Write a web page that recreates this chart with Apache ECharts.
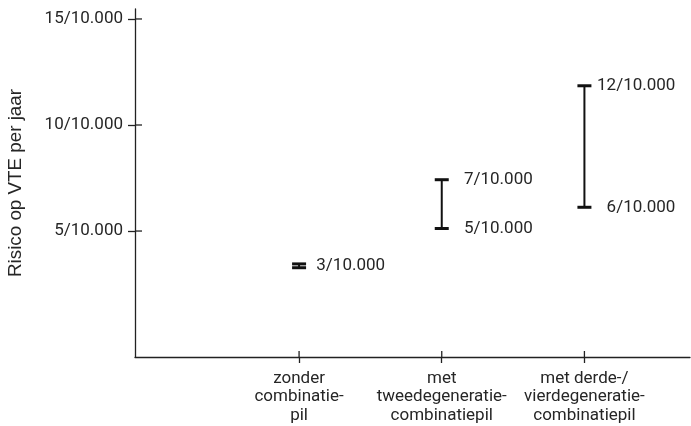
<!DOCTYPE html>
<html><head><meta charset="utf-8">
<script src="https://cdn.jsdelivr.net/npm/echarts@6/dist/echarts.min.js"></script>
<style>html,body{margin:0;padding:0;background:#fff}#c{width:691px;height:426px}</style>
</head><body><div id="c"></div>
<script>
const categories = ['zonder\ncombinatie-\npil', 'met\ntweedegeneratie-\ncombinatiepil', 'met derde-/\nvierdegeneratie-\ncombinatiepil'];
const catX = [1, 2, 3];
const lowValues = [3.27, 5.12, 6.12];
const highValues = [3.45, 7.42, 11.85];
const highLabels = ['3/10.000', '7/10.000', '12/10.000'];
const lowLabels = ['', '5/10.000', '6/10.000'];
const yTicks = [5, 10, 15];
const yTickLabels = ['5/10.000', '10/10.000', '15/10.000'];
const yName = 'Risico op VTE per jaar';

const FONT = 'Roboto';
const TXT = '#262626';
const AX = '#222';
const FS = 17;
const data = catX.map((x, i) => [x, lowValues[i], highValues[i], i]);

const chart = echarts.init(document.getElementById('c'));
chart.setOption({
  animation: false,
  grid: {left: 135, right: 1, top: 9, bottom: 69, outerBoundsMode: 'none', containLabel: false},
  xAxis: {
    type: 'value', min: -0.15, max: 3.74, splitLine: {show: false},
    axisLine: {show: true, onZero: false, lineStyle: {color: AX, width: 1.3}},
    axisTick: {show: true, length: 6, customValues: catX, lineStyle: {color: AX, width: 1.3}},
    axisLabel: {customValues: catX, margin: 12, color: TXT, fontFamily: FONT, fontSize: FS, lineHeight: 18.5,
      formatter: v => categories[catX.indexOf(v)] || ''}
  },
  yAxis: {
    type: 'value', min: -0.94, max: 15.47, splitLine: {show: false},
    axisLine: {show: true, onZero: false, lineStyle: {color: AX, width: 1.3}},
    name: yName, nameLocation: 'middle', nameGap: 110, nameRotate: 90,
    nameTextStyle: {color: TXT, fontFamily: 'Liberation Sans', fontSize: 18.8},
    axisTick: {show: true, length: 7, customValues: yTicks, lineStyle: {color: AX, width: 1.3}},
    axisLabel: {customValues: yTicks, margin: 12, color: TXT, fontFamily: FONT, fontSize: FS,
      formatter: v => yTickLabels[yTicks.indexOf(v)] || ''}
  },
  series: [{
    type: 'custom',
    clip: false,
    data: data,
    renderItem: function (params, api) {
      const x = api.value(0), lo = api.value(1), hi = api.value(2), i = api.value(3);
      const pLo = api.coord([x, lo]);
      const pHi = api.coord([x, hi]);
      const hw = 7;
      const st = {stroke: '#111', lineWidth: 2};
      const cap = {stroke: '#111', lineWidth: 3};
      const children = [
        {type: 'line', shape: {x1: pLo[0], y1: pLo[1], x2: pHi[0], y2: pHi[1]}, style: st},
        {type: 'line', shape: {x1: pLo[0] - hw, y1: pLo[1], x2: pLo[0] + hw, y2: pLo[1]}, style: cap},
        {type: 'line', shape: {x1: pHi[0] - hw, y1: pHi[1], x2: pHi[0] + hw, y2: pHi[1]}, style: cap}
      ];
      const tStyle = {fill: TXT, fontFamily: FONT, fontSize: FS, align: 'right', verticalAlign: 'middle'};
      if (lowLabels[i]) {
        children.push({type: 'text', x: pHi[0] + 91, y: pHi[1], style: Object.assign({text: highLabels[i]}, tStyle)});
        children.push({type: 'text', x: pLo[0] + 91, y: pLo[1], style: Object.assign({text: lowLabels[i]}, tStyle)});
      } else {
        children.push({type: 'text', x: pHi[0] + 86, y: (pHi[1] + pLo[1]) / 2, style: Object.assign({text: highLabels[i]}, tStyle)});
      }
      // inner halves of the axis ticks (ticks cross the axis lines)
      const cs = params.coordSys;
      const axisX = cs.x, axisY = cs.y + cs.height;
      const lw = {stroke: AX, lineWidth: 1.3};
      if (i === 0) {
        yTicks.forEach(v => {
          const p = api.coord([x, v]);
          children.push({type: 'line', shape: {x1: axisX, y1: p[1], x2: axisX + 7, y2: p[1]}, style: lw});
        });
      }
      children.push({type: 'line', shape: {x1: pLo[0], y1: axisY, x2: pLo[0], y2: axisY - 6}, style: lw});
      return {type: 'group', children: children};
    }
  }]
});
</script></body></html>
